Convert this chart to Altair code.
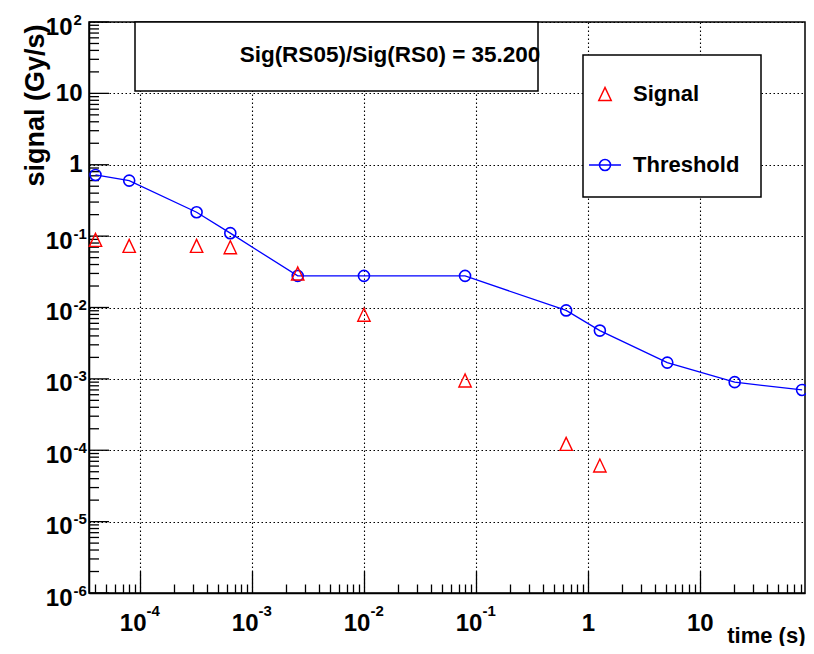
import math
import altair as alt
import pandas as pd

# ---------------- data ----------------
time_s = [4e-5, 8e-5, 3.2e-4, 6.4e-4, 2.56e-3, 1e-2, 8e-2, 0.64, 1.28, 5.12, 20.48, 81.92]
threshold = [0.72, 0.60, 0.216, 0.11, 0.0277, 0.0277, 0.0277, 0.0091, 0.00475, 0.00169, 0.0009, 0.0007]
signal_time = [4e-5, 8e-5, 3.2e-4, 6.4e-4, 2.56e-3, 1e-2, 8e-2, 0.64, 1.28]
signal = [0.0885, 0.073, 0.073, 0.070, 0.030, 0.0079, 0.00095, 1.23e-4, 6.1e-5]
series = ["Signal", "Threshold"]
series_colors = ["#ff0000", "#0000ff"]
ratio_text = "Sig(RS05)/Sig(RS0) = 35.200"
x_title = "time (s)"
y_title = "signal (Gy/s)"

x_domain = [3.5e-5, 87]
y_domain = [1e-6, 100]
x_major = [1e-4, 1e-3, 1e-2, 1e-1, 1, 10]
x_major_base = ["10", "10", "10", "10", "1", "10"]
x_major_exp = ["-4", "-3", "-2", "-1", "", ""]
y_major = [1e-6, 1e-5, 1e-4, 1e-3, 1e-2, 1e-1, 1, 10, 100]
y_major_base = ["10", "10", "10", "10", "10", "10", "1", "10", "10"]
y_major_exp = ["-6", "-5", "-4", "-3", "-2", "-1", "", "", "2"]
minor_mults = [2, 3, 4, 5, 6, 7, 8, 9]

W, H = 716, 571
FONT = "Liberation Sans"
X_MAJOR_LEN, X_MINOR_LEN = 22, 9
Y_MAJOR_LEN, Y_MINOR_LEN = 20, 10

x_minor = [m * 10.0 ** e for e in range(-5, 2) for m in minor_mults
           if x_domain[0] <= m * 10.0 ** e <= x_domain[1]]
y_minor = [m * 10.0 ** e for e in range(-6, 2) for m in minor_mults
           if y_domain[0] <= m * 10.0 ** e <= y_domain[1]]


def label_expr(vals, labels):
    parts = []
    for v, l in zip(vals, labels):
        e = round(math.log10(v))
        parts.append(f"abs(log(datum.value)/LN10 - ({e})) < 0.01 ? '{l}' : ")
    return "".join(parts) + "''"


x_exp_test = "datum.value < 0.5"
y_exp_test = "datum.value < 0.5 || datum.value > 50"


def cond(test, a, b):
    return {"condition": {"test": test, "value": a}, "value": b}


thr_df = pd.DataFrame({"time": time_s, "value": threshold})
sig_df = pd.DataFrame({"time": signal_time, "value": signal})
leg_df = pd.DataFrame({"series": series})
y_major_df = pd.DataFrame({"tick": y_major})
y_minor_df = pd.DataFrame({"tick": y_minor})

common_label = dict(labelFont=FONT, labelFontWeight="bold", labelColor="black",
                    labelFlush=False, labelOverlap=False, labelBound=False)
grid_style = dict(gridDash=[1.5, 2.5], gridColor="black", gridWidth=1.1)

# Axis A: base labels, grid, domain
x_axis_a = alt.Axis(orient="bottom", values=x_major, labelExpr=label_expr(x_major, x_major_base),
                    ticks=False, tickSize=0, grid=True, **grid_style,
                    domain=True, domainColor="black", domainWidth=1.5,
                    labelFontSize=24, labelBaseline="top", labelPadding=18,
                    labelAlign=cond(x_exp_test, "right", "center"),
                    labelOffset=cond(x_exp_test, 6, 0),
                    title=x_title, titleFont=FONT, titleFontWeight="bold", titleFontSize=22,
                    titleColor="black", titleAnchor="end", titleAlign="right",
                    titleBaseline="middle", titleX=W, titleY=42, **common_label)
y_axis_a = alt.Axis(orient="left", values=y_major, labelExpr=label_expr(y_major, y_major_base),
                    ticks=False, tickSize=0, grid=True, **grid_style,
                    domain=True, domainColor="black", domainWidth=1.5,
                    labelFontSize=24, labelBaseline="middle", labelAlign="right",
                    labelPadding=cond(y_exp_test, 17, 7),
                    labelOffset=cond(y_exp_test, 5, 0),
                    title=y_title, titleFont=FONT, titleFontWeight="bold", titleFontSize=27,
                    titleColor="black", titleAngle=270, titleAlign="right",
                    titleBaseline="middle", titleX=-54, titleY=2, **common_label)
# Axis B: exponents
x_axis_b = alt.Axis(orient="bottom", values=x_major, labelExpr=label_expr(x_major, x_major_exp),
                    ticks=False, tickSize=0, grid=False, domain=False,
                    labelFontSize=15, labelBaseline="top", labelPadding=10,
                    labelAlign="left", labelOffset=6, title=None, **common_label)
y_axis_b = alt.Axis(orient="left", values=y_major, labelExpr=label_expr(y_major, y_major_exp),
                    ticks=False, tickSize=0, grid=False, domain=False,
                    labelFontSize=15, labelBaseline="middle", labelPadding=16,
                    labelAlign="left", labelOffset=-3, title=None, **common_label)
# Inward x ticks (axis moved inside by its tick length, ticks point back to the frame)
x_axis_major = alt.Axis(orient="bottom", offset=-X_MAJOR_LEN, values=x_major, labels=False,
                        ticks=True, tickSize=X_MAJOR_LEN, tickColor="black", tickWidth=1.3,
                        grid=False, domain=False, title=None)
x_axis_minor = alt.Axis(orient="bottom", offset=-X_MINOR_LEN, values=x_minor, labels=False,
                        ticks=True, tickSize=X_MINOR_LEN, tickColor="black", tickWidth=1.3,
                        grid=False, domain=False, title=None)

xs = alt.Scale(type="log", domain=x_domain, nice=False)
ys = alt.Scale(type="log", domain=y_domain, nice=False)

line = alt.Chart(thr_df).mark_line(color="#0000ff", strokeWidth=1.3).encode(
    x=alt.X("time:Q", scale=xs, axis=x_axis_a),
    y=alt.Y("value:Q", scale=ys, axis=y_axis_a),
)
circles = alt.Chart(thr_df).mark_point(shape="circle", filled=False, size=121, opacity=1,
                                       stroke="#0000ff", strokeWidth=1.6).encode(
    x=alt.X("time:Q", scale=xs, axis=x_axis_b),
    y=alt.Y("value:Q", scale=ys, axis=y_axis_b),
)
tri_path = "M0,-1L-0.95,1L0.95,1Z"
triangles = alt.Chart(sig_df).mark_point(shape=tri_path, filled=False, size=169, opacity=1,
                                         stroke="#ff0000", strokeWidth=1.4).encode(
    x=alt.X("time:Q", scale=xs, axis=x_axis_major),
    y=alt.Y("value:Q", scale=ys, axis=None),
)
# invisible copy of the threshold line, carrying the minor x-tick axis
ghost = alt.Chart(thr_df).mark_line(opacity=0, strokeWidth=0.1).encode(
    x=alt.X("time:Q", scale=xs, axis=x_axis_minor),
    y=alt.Y("value:Q", scale=ys, axis=None),
)
# inward y ticks, placed through the y scale
y_major_ticks = alt.Chart(y_major_df).mark_rule(color="black", strokeWidth=1.3).encode(
    y=alt.Y("tick:Q", scale=ys, axis=None), x=alt.value(0), x2=alt.value(Y_MAJOR_LEN))
y_minor_ticks = alt.Chart(y_minor_df).mark_rule(color="black", strokeWidth=1.3).encode(
    y=alt.Y("tick:Q", scale=ys, axis=None), x=alt.value(0), x2=alt.value(Y_MINOR_LEN))

leg_tri = "M0,-0.38L-0.365,0.38L0.365,0.38Z"
leg_thr = ("M-0.94,0H0.94M0.324,0A0.324,0.324 0 1,1 -0.324,0"
           "A0.324,0.324 0 1,1 0.324,0")
legend_def = alt.Legend(title=None, orient="none", legendX=494, legendY=33,
                        fillColor="white", strokeColor="black",
                        padding=21, symbolSize=1156, symbolStrokeWidth=1.5,
                        symbolOffset=-17, labelOffset=10, rowPadding=42,
                        labelFont=FONT, labelFontWeight="bold", labelFontSize=22,
                        labelColor="black", direction="vertical")
legend_layer = alt.Chart(leg_df).transform_filter("false").mark_point(
    filled=False, opacity=1, strokeWidth=1.5).encode(
    shape=alt.Shape("series:N", scale=alt.Scale(domain=series, range=[leg_tri, leg_thr]),
                    legend=legend_def),
    stroke=alt.Stroke("series:N", scale=alt.Scale(domain=series, range=series_colors),
                      legend=legend_def),
)

box = alt.Chart(alt.Data(values=[{}])).mark_rect(fill="white", stroke="black", strokeWidth=1.5).encode(
    x=alt.value(46), x2=alt.value(449), y=alt.value(0), y2=alt.value(69))
box_text = alt.Chart(alt.Data(values=[{}])).mark_text(
    text=ratio_text, font=FONT, fontWeight="bold", fontSize=22.5, align="center",
    baseline="middle", color="black").encode(x=alt.value(301), y=alt.value(33))

chart = alt.layer(box, y_major_ticks, y_minor_ticks, line, circles, triangles, ghost,
                  box_text, legend_layer).resolve_axis(
    x="independent", y="independent").properties(
    width=W, height=H,
    autosize=alt.AutoSizeParams(type="none"),
    padding={"left": 81, "top": 14, "right": 1, "bottom": 53},
    background="white",
).configure_view(stroke="black", strokeWidth=1.5).configure_legend(strokeWidth=1.5)

chart.save("out.html", embed_options={"renderer": "svg", "actions": False})
